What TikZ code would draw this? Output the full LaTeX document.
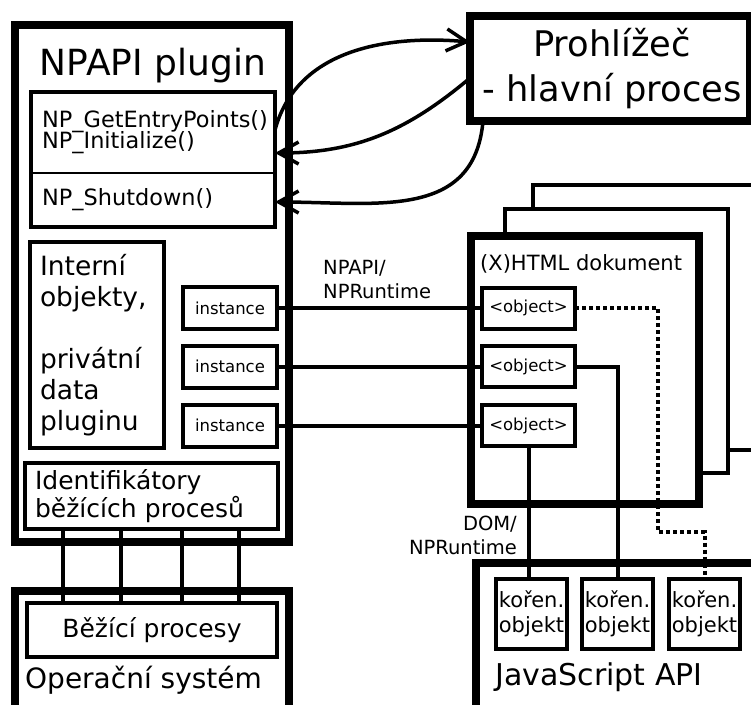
\documentclass[tikz,border=0pt]{standalone}
\usepackage{fontspec}
\setmainfont{DejaVu Sans}
\usetikzlibrary{arrows.meta}
\begin{document}
\begin{tikzpicture}[x=1pt,y=-1pt,
  frame/.style={draw,line width=8pt,outer sep=0pt},
  box/.style={draw,line width=4pt,outer sep=0pt,inner sep=0pt},
  link/.style={line width=4pt},
  call/.style={line width=3.5pt,-{Straight Barb[length=20pt,width=22pt]}}]
\useasboundingbox[fill=white] (0,0) rectangle (751,704);

% plugin
\node[frame,minimum width=274pt,minimum height=517pt] (plugin) at (152,283.5) {};
\node[anchor=base,inner sep=0pt,font=\fontsize{36}{40}\selectfont] (plugtitle) at (153,75) {NPAPI plugin};
\node[box,minimum width=244pt,minimum height=135pt] (funcs) at (153,159.5) {};
\coordinate (split) at (0,173);
\draw[line width=2pt] (funcs.west |- split) -- (funcs.east |- split);
\node[anchor=base west,inner sep=0pt,font=\fontsize{22.4}{21}\selectfont] (getentry) at (42,127) {NP\_GetEntryPoints()};
\node[anchor=base west,inner sep=0pt,font=\fontsize{22.4}{21}\selectfont] (init) at (42,148) {NP\_Initialize()};
\node[anchor=base west,inner sep=0pt,font=\fontsize{22.4}{21}\selectfont] (shutdown) at (42,205) {NP\_Shutdown()};

\node[box,minimum width=134pt,minimum height=206pt,text width=114pt,inner xsep=10pt,align=left,font=\fontsize{26.5}{31}\selectfont] (internal) at (97,345) {Interní\\objekty,\\[31pt]privátní\\data\\pluginu};
\foreach \y/\n in {308/1,366.5/2,425.5/3}
  \node[box,minimum width=94pt,minimum height=42pt,font=\fontsize{16.5}{20}\selectfont] (inst\n) at (230,\y) {instance};

\node[box,minimum width=253pt,minimum height=66pt,text width=233pt,inner xsep=10pt,align=left,font=\fontsize{25}{28}\selectfont] (ident) at (151.5,496) {Identifikátory\\běžících procesů};

% operacni system
\node[frame,minimum width=274pt,minimum height=125pt] (os) at (152,653.5) {};
\node[box,minimum width=250pt,minimum height=54pt,font=\fontsize{25}{28}\selectfont] (running) at (152,630) {Běžící procesy};
\node[anchor=base west,inner sep=0pt,font=\fontsize{28}{32}\selectfont] (ostitle) at (25,688) {Operační systém};

\foreach \x in {63,121,182,239}{
  \coordinate (tap) at (\x,0);
  \draw[link] (ident.south -| tap) -- (running.north -| tap);
}

% prohlizec
\node[frame,minimum width=280pt,minimum height=105pt] (browser) at (610,68.5) {};
\node[align=center,inner sep=0pt,font=\fontsize{35.3}{45}\selectfont] (browsertext) at (612,68.5) {Prohlížeč\\- hlavní proces};

% dokumenty
\draw[link] (505,236) -- (505,209) -- (728,209) -- (728,473) -- (703,473);
\draw[link] (533,209) -- (533,185) -- (760,185);
\draw[link] (728,450) -- (760,450);
\node[frame,minimum width=228pt,minimum height=268pt] (html) at (585,370) {};
\node[anchor=base west,inner sep=0pt,font=\fontsize{21}{24}\selectfont] (htmltitle) at (480,270) {(X)HTML dokument};
\foreach \y/\n in {308/1,366.5/2,425.5/3}
  \node[box,minimum width=93pt,minimum height=41pt,font=\fontsize{16.5}{20}\selectfont] (obj\n) at (528.5,\y) {<object>};

\foreach \n in {1,2,3}
  \draw[link] (inst\n.east) -- (obj\n.west);
\node[anchor=west,align=left,inner sep=0pt,font=\fontsize{19.5}{24}\selectfont] (npruntime) at (323,280) {NPAPI/\\NPRuntime};

% javascript
\node[frame,minimum width=304pt,minimum height=157pt] (js) at (628,641.5) {};
\foreach \x/\n in {531.5/1,617.5/2,704.5/3}
  \node[box,minimum width=71pt,minimum height=70pt,align=center,font=\fontsize{21}{25}\selectfont] (root\n) at (\x,614) {kořen.\\objekt};
\node[anchor=base west,inner sep=0pt,font=\fontsize{30}{34}\selectfont] (jstitle) at (495,685) {JavaScript API};
\node[anchor=east,align=right,inner sep=0pt,font=\fontsize{19.5}{24}\selectfont] (dom) at (517,535) {DOM/\\NPRuntime};

\draw[link] (obj3.south) -- (obj3.south |- root1.north);
\draw[link] (obj2.east) -| (root2.north);
\coordinate (bend) at (658,532);
\draw[link,dash pattern=on 4pt off 3pt] (obj1.east) -| (bend) -| (root3.north);

% volani
\draw[call] ([yshift=-38pt]funcs.north east) to[out=75,in=175] ([yshift=-26pt]browser.north west);
\draw[call] ([yshift=-62pt]browser.north west) to[out=220,in=0] ([yshift=-61pt]funcs.north east);
\draw[call] ([xshift=13pt]browser.south west) to[out=-95,in=0,looseness=1.15] ([yshift=-110pt]funcs.north east);

\end{tikzpicture}
\end{document}
